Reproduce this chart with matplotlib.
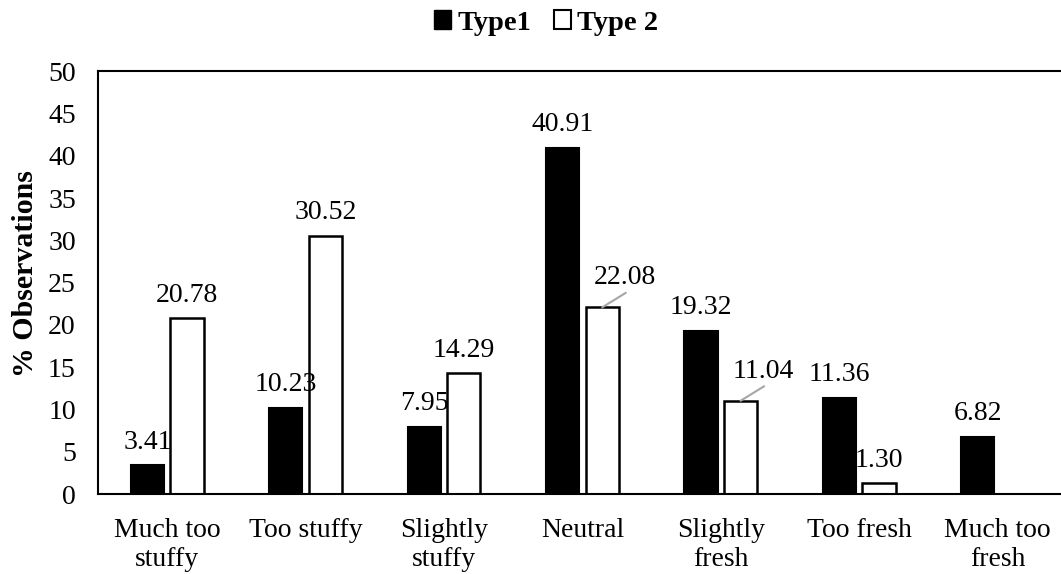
import numpy as np
import matplotlib
matplotlib.use("Agg")
import matplotlib.pyplot as plt
from matplotlib.patches import Patch

plt.rcParams['font.family'] = ['Liberation Serif', 'DejaVu Serif']

categories = ["Much too\nstuffy", "Too stuffy", "Slightly\nstuffy", "Neutral",
              "Slightly\nfresh", "Too fresh", "Much too\nfresh"]
type1 = [3.41, 10.23, 7.95, 40.91, 19.32, 11.36, 6.82]
type2 = [20.78, 30.52, 14.29, 22.08, 11.04, 1.30, 0.0]
# labels that sit off to the side with a small leader line (series, index)
leader_labels = [(1, 3), (1, 4)]

FS = 20

fig = plt.figure(figsize=(10.61, 5.74), dpi=100)
ax = fig.add_axes([0.0924, 0.139, 0.913, 0.737])

x = np.arange(len(categories))
width = 0.24
offset = 0.143
bars1 = ax.bar(x - offset, type1, width, color="black", edgecolor="black", linewidth=1.5)
bars2 = ax.bar(x + offset, type2, width, color="white", edgecolor="black", linewidth=1.8)

for s, (xs, vals) in enumerate([(x - offset, type1), (x + offset, type2)]):
    for i, (xi, v) in enumerate(zip(xs, vals)):
        if v == 0:
            continue
        if (s, i) in leader_labels:
            ax.annotate("", xy=(xi, v), xytext=(17, 10.5), textcoords="offset points",
                        arrowprops=dict(arrowstyle="-", color="#a6a6a6", lw=1.5,
                                        shrinkA=0, shrinkB=0))
            ax.annotate(f"{v:.2f}", xy=(xi, v), xytext=(16.5, 16.5), textcoords="offset points",
                        ha="center", va="baseline", fontsize=FS)
        else:
            ax.annotate(f"{v:.2f}", xy=(xi, v), xytext=(0, 12), textcoords="offset points",
                        ha="center", va="baseline", fontsize=FS)

ax.set_xlim(-0.5, len(categories) - 0.5)
ax.set_ylim(0, 50)
ax.set_yticks(np.arange(0, 51, 5))
ax.set_xticks(x)
ax.set_xticklabels(categories, fontsize=FS, linespacing=1.2)
ax.tick_params(axis="y", length=0, pad=16, labelsize=FS)
ax.tick_params(axis="x", length=0, pad=17)
ax.set_ylabel("% Observations", fontsize=21.5, fontweight="bold")
ax.yaxis.set_label_coords(-0.061, 0.522)

for side in ["left", "bottom", "top"]:
    ax.spines[side].set_linewidth(1.5)
ax.spines["right"].set_visible(False)

handles = [Patch(facecolor="black", edgecolor="black", label="Type1"),
           Patch(facecolor="white", edgecolor="black", linewidth=1.5, label="Type 2")]
fig.legend(handles=handles, loc="center", bbox_to_anchor=(546 / 1061, 1 - 23 / 574), ncol=2,
           frameon=False, prop={"size": 20.5, "weight": "bold"},
           handlelength=0.6, handleheight=0.6, handletextpad=0.2, columnspacing=0.8)

fig.savefig("out.png", dpi=100)
